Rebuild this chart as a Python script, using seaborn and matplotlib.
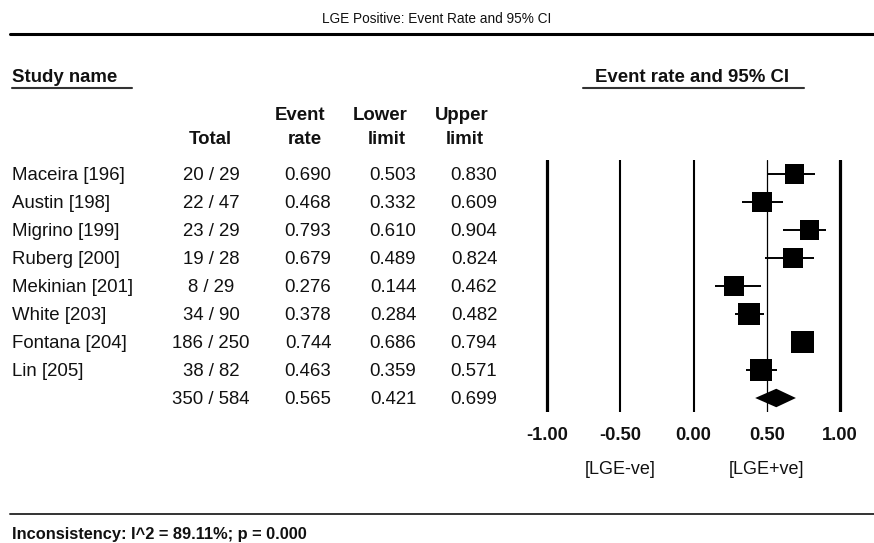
import matplotlib
matplotlib.use("Agg")
import matplotlib.pyplot as plt
import matplotlib.transforms as mtransforms
import numpy as np
import pandas as pd
import seaborn as sns

# ---- data -------------------------------------------------------------
studies = ["Maceira [196]", "Austin [198]", "Migrino [199]", "Ruberg [200]",
           "Mekinian [201]", "White [203]", "Fontana [204]", "Lin [205]"]
events = [20, 22, 23, 19, 8, 34, 186, 38]
totals = [29, 47, 29, 28, 29, 90, 250, 82]
event_rate = [0.690, 0.468, 0.793, 0.679, 0.276, 0.378, 0.744, 0.463]
lower_limit = [0.503, 0.332, 0.610, 0.489, 0.144, 0.284, 0.686, 0.359]
upper_limit = [0.830, 0.609, 0.904, 0.824, 0.462, 0.482, 0.794, 0.571]
rel_weight = [11.3, 12.6, 10.9, 11.4, 10.8, 14.0, 14.9, 14.1]

pooled_events, pooled_total = 350, 584
pooled_rate, pooled_lower, pooled_upper = 0.565, 0.421, 0.699

axis_ticks = [-1.0, -0.5, 0.0, 0.5, 1.0]
favours_labels = ["[LGE-ve]", "[LGE+ve]"]
favours_at = [-0.5, 0.5]
heterogeneity = "Inconsistency: I^2 = 89.11%; p = 0.000"
title = "LGE Positive: Event Rate and 95% CI"

# ---- style ------------------------------------------------------------
sns.set_theme(style="white")
plt.rcParams["font.family"] = ["Liberation Sans", "DejaVu Sans"]
INK = "#111111"

W, H = 874, 543
fig = plt.figure(figsize=(W / 100, H / 100), dpi=100)
fig.patch.set_facecolor("white")

# background axes in pixel units for the table frame and headings
bg = fig.add_axes([0, 0, 1, 1])
bg.set_xlim(0, W)
bg.set_ylim(H, 0)
bg.axis("off")

# forest-plot axes
left_px, right_px, top_px, bot_px = 520, 870, 160, 412
ax = fig.add_axes([left_px / W, (H - bot_px) / H,
                   (right_px - left_px) / W, (bot_px - top_px) / H])
ax.patch.set_alpha(0)

n = len(studies)
df = pd.DataFrame({
    "study": studies, "rate": event_rate, "lo": lower_limit,
    "hi": upper_limit, "weight": rel_weight, "row": np.arange(n),
})

# reference lines
line_widths = {-1.0: 2.3, -0.5: 1.5, 0.0: 1.5, 0.5: 0.9, 1.0: 2.3}
for t in axis_ticks:
    ax.axvline(t, color="black", lw=line_widths[t], zorder=1)

# confidence intervals
ax.hlines(df["row"], df["lo"], df["hi"], color="black", lw=1.4, zorder=2)

# study squares, area proportional to weight
sns.scatterplot(data=df, x="rate", y="row", size="weight",
                sizes=(0, 262), size_norm=(0, max(rel_weight)),
                marker="s", color="black", linewidth=0, legend=False,
                ax=ax, zorder=3)

# pooled diamond
half_h = 0.33
ax.fill([pooled_lower, pooled_rate, pooled_upper, pooled_rate],
        [n, n - half_h, n, n + half_h], color="black", lw=0, zorder=3)

x0 = (left_px - 693.5) / 146.5
x1 = (right_px - 693.5) / 146.5
ax.set_xlim(x0, x1)
ax.set_ylim(n + 0.5, -0.5)
ax.set_xticks(axis_ticks)
ax.set_xticklabels([f"{t:.2f}" for t in axis_ticks], fontsize=13.2,
                   fontweight="bold", color=INK)
ax.set_yticks([])
ax.tick_params(axis="x", length=0, pad=11)
ax.set_xlabel("")
ax.set_ylabel("")
for s in ax.spines.values():
    s.set_visible(False)

# favours labels under the axis
fav_tr = mtransforms.blended_transform_factory(ax.transData, bg.transData)
for lab, xv in zip(favours_labels, favours_at):
    bg.text(xv, 470, lab, transform=fav_tr, ha="center", va="center",
            fontsize=13, color=INK)

# ---- table ------------------------------------------------------------
row_tr = mtransforms.blended_transform_factory(bg.transData, ax.transData)
fs = 13.4
dy = 0.07  # nudge text so glyphs sit centred on each row
col_total, col_rate, col_lo, col_hi = 211, 308, 393, 474
for i in range(n):
    y = i + dy
    bg.text(12, y, studies[i], transform=row_tr, ha="left", va="center",
            fontsize=fs, color=INK)
    bg.text(col_total, y, f"{events[i]} / {totals[i]}", transform=row_tr,
            ha="center", va="center", fontsize=fs, color=INK)
    bg.text(col_rate, y, f"{event_rate[i]:.3f}", transform=row_tr,
            ha="center", va="center", fontsize=fs, color=INK)
    bg.text(col_lo, y, f"{lower_limit[i]:.3f}", transform=row_tr,
            ha="center", va="center", fontsize=fs, color=INK)
    bg.text(col_hi, y, f"{upper_limit[i]:.3f}", transform=row_tr,
            ha="center", va="center", fontsize=fs, color=INK)

bg.text(col_total, n + dy, f"{pooled_events} / {pooled_total}",
        transform=row_tr, ha="center", va="center", fontsize=fs, color=INK)
for cx, v in zip([col_rate, col_lo, col_hi],
                 [pooled_rate, pooled_lower, pooled_upper]):
    bg.text(cx, n + dy, f"{v:.3f}", transform=row_tr, ha="center",
            va="center", fontsize=fs, color=INK)

# column headings
hb = dict(ha="center", va="center", fontsize=fs, fontweight="bold", color=INK)
bg.text(210, 139, "Total", **hb)
bg.text(300, 115, "Event", **hb)
bg.text(305, 139, "rate", **hb)
bg.text(380, 115, "Lower", **hb)
bg.text(387, 139, "limit", **hb)
bg.text(462, 115, "Upper", **hb)
bg.text(465, 139, "limit", **hb)

bg.text(12, 77, "Study name", ha="left", va="center", fontsize=fs,
        fontweight="bold", color=INK)
bg.plot([12, 132], [88, 88], color="#333333", lw=1.5)
bg.text(692, 77, "Event rate and 95% CI", ha="center", va="center",
        fontsize=fs, fontweight="bold", color=INK)
bg.plot([583, 804], [88, 88], color="#333333", lw=1.5)

# title and rules
bg.text(437, 19, title, ha="center", va="center", fontsize=9.8, color=INK)
bg.plot([10, W], [34, 34], color="black", lw=2.2)
bg.plot([10, W], [514, 514], color="#333333", lw=1.4)
bg.text(12, 534, heterogeneity, ha="left", va="center", fontsize=11.8,
        fontweight="bold", color=INK)

fig.savefig("out.png", dpi=100, facecolor="white")
